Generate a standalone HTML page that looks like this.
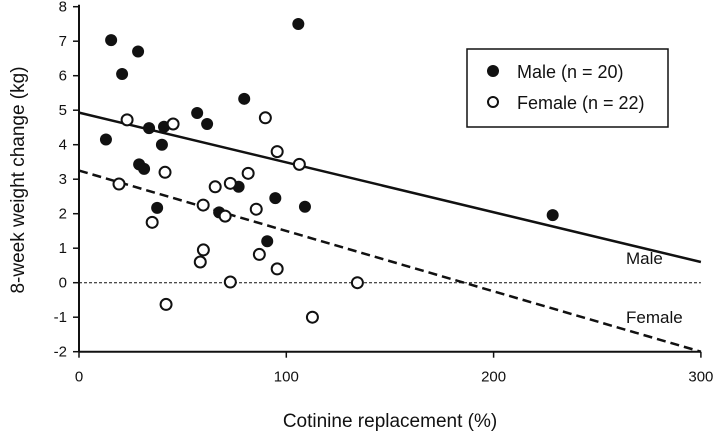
<!DOCTYPE html>
<html><head><meta charset="utf-8"><style>
body{margin:0;background:#fff}
svg text{font-family:"Liberation Sans",Arial,sans-serif;fill:#111}
</style></head><body>
<svg id="chart" width="716" height="436" viewBox="0 0 716 436" xmlns="http://www.w3.org/2000/svg">
<g id="axes"></g>
<g id="marks"></g>
<g>
<rect x="467" y="49" width="201" height="78" fill="#fff" stroke="#111" stroke-width="1.5"/>
<circle cx="493" cy="71" r="6" fill="#111"/>
<text x="517" y="78" font-size="18">Male (n = 20)</text>
<circle cx="493" cy="102" r="5" fill="#fff" stroke="#111" stroke-width="2"/>
<text x="517" y="109" font-size="18">Female (n = 22)</text>
</g>
<text x="626" y="264" font-size="17">Male</text>
<text x="626" y="323" font-size="17">Female</text>
<text x="390" y="427" font-size="19" text-anchor="middle">Cotinine replacement (%)</text>
<text transform="translate(24,180) rotate(-90)" font-size="19" text-anchor="middle">8-week weight change (kg)</text>
</svg>
<script>
const xTicks=[0,100,200,300];
const yTicks=[-2,-1,0,1,2,3,4,5,6,7,8];
const maleX=[13,15.5,20.8,28.5,33.8,41,40,29,31.4,37.7,57,61.8,79.7,105.8,77,94.7,90.8,109,67.6,228.5];
const maleY=[4.15,7.03,6.05,6.7,4.48,4.52,4.0,3.43,3.3,2.17,4.92,4.6,5.33,7.5,2.78,2.45,1.2,2.2,2.04,1.96];
const femaleX=[23.2,45.4,19.3,41.5,35.3,42,59.9,65.7,73,70.5,81.6,85.5,60,58.5,73,87,95.6,89.9,95.6,106.3,112.6,134.3];
const femaleY=[4.72,4.6,2.86,3.2,1.75,-0.63,2.25,2.78,2.88,1.93,3.17,2.13,0.95,0.6,0.02,0.82,0.4,4.78,3.8,3.43,-1.0,0.0];
const maleFit=[4.93,0.6];
const femaleFit=[3.25,-2.0];
const NS='http://www.w3.org/2000/svg';
const X=v=>79+v*2.073;
const Y=v=>282.7-v*34.5;
function mk(tag,attrs,parent){const e=document.createElementNS(NS,tag);for(const k in attrs)e.setAttribute(k,attrs[k]);parent.appendChild(e);return e;}
const ax=document.getElementById('axes'),mg=document.getElementById('marks');
let e;
e=mk('line',{x1:X(0),y1:Y(8)-2,x2:X(0),y2:Y(-2),stroke:'#111','stroke-width':2},ax);


e=mk('line',{x1:X(0),y1:Y(-2),x2:X(300),y2:Y(-2),stroke:'#111','stroke-width':2},ax);


yTicks.forEach(t=>{
 const l=mk('line',{x1:X(0)-6,y1:Y(t),x2:X(0),y2:Y(t),stroke:'#111','stroke-width':1.5},ax);
 
 
 const s=mk('text',{x:X(0)-12,y:Y(t)+5,'font-size':15,'text-anchor':'end'},ax);s.textContent=t;
 
 
});
xTicks.forEach(t=>{
 const l=mk('line',{x1:X(t),y1:Y(-2),x2:X(t),y2:Y(-2)+6,stroke:'#111','stroke-width':1.5},ax);
 
 
 const s=mk('text',{x:X(t),y:Y(-2)+30,'font-size':15,'text-anchor':'middle'},ax);s.textContent=t;
 
 
});
e=mk('line',{x1:X(0),y1:Y(0),x2:X(300),y2:Y(0),stroke:'#111','stroke-width':1,'stroke-dasharray':'3,2'},mg);


e=mk('line',{x1:X(0),y1:Y(maleFit[0]),x2:X(300),y2:Y(maleFit[1]),stroke:'#111','stroke-width':2.5},mg);


e=mk('line',{x1:X(0),y1:Y(femaleFit[0]),x2:X(300),y2:Y(femaleFit[1]),stroke:'#111','stroke-width':2.5,'stroke-dasharray':'9,5'},mg);


maleX.forEach((v,i)=>{
 const c=mk('circle',{cx:X(v),cy:Y(maleY[i]),r:6,fill:'#111'},mg);
 
 
});
femaleX.forEach((v,i)=>{
 const c=mk('circle',{cx:X(v),cy:Y(femaleY[i]),r:5.5,fill:'#fff',stroke:'#111','stroke-width':2},mg);
 
 
});
</script>
</body></html>
